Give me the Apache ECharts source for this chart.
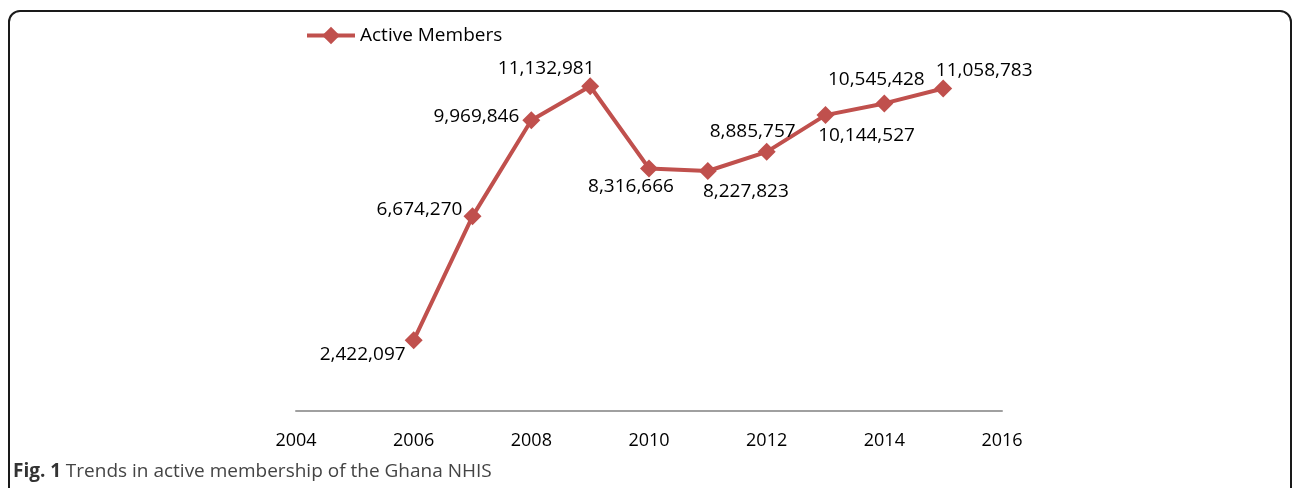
<!DOCTYPE html>
<html><head><meta charset="utf-8">
<script src="https://cdn.jsdelivr.net/npm/echarts@6/dist/echarts.min.js"></script>
<style>
html,body{margin:0;padding:0;background:#fff;overflow:hidden;}
#frame{position:absolute;left:8px;top:10px;width:1284px;height:520px;border:2px solid #1a1a1a;border-radius:12px;box-sizing:border-box;}
#chart{position:absolute;left:0;top:0;width:1292px;height:488px;}
</style></head>
<body>
<div id="frame"></div>
<div id="chart"></div>
<script>
const years = [2006, 2007, 2008, 2009, 2010, 2011, 2012, 2013, 2014, 2015];
const activeMembers = [2422097, 6674270, 9969846, 11132981, 8316666, 8227823, 8885757, 10144527, 10545428, 11058783];
const xTicks = [2004, 2006, 2008, 2010, 2012, 2014, 2016];
const labelOffsets = [[-51,14],[-53,-7],[-55,-4],[-44,-18],[-18,18],[38,21],[-14,-20],[41,20],[-8,-24],[41,-18]];

const sym = 18;
const data = years.map((y, i) => ({
  value: [y, activeMembers[i]],
  label: { position: [sym/2 + labelOffsets[i][0], sym/2 + labelOffsets[i][1]] }
}));

const chart = echarts.init(document.getElementById('chart'), null, {renderer: 'canvas'});
chart.setOption({
  animation: false,
  textStyle: { fontFamily: 'Open Sans' },
  title: {
    left: 13, top: 462, padding: 0,
    text: '{b|Fig. 1} {n|Trends in active membership of the Ghana NHIS}',
    textStyle: {
      rich: {
        b: { fontFamily: 'Open Sans', fontWeight: 'bold', fontSize: 19, color: '#333' },
        n: { fontFamily: 'Open Sans', fontWeight: 'normal', fontSize: 19, color: '#444' }
      }
    }
  },
  legend: {
    left: 305, top: 26, padding: 0,
    itemWidth: 48, itemHeight: 22, itemGap: 4,
    lineStyle: { width: 4 },
    textStyle: { fontFamily: 'Open Sans', fontSize: 19, color: '#000' },
    data: ['Active Members']
  },
  grid: { left: 296, right: 290, top: 61, bottom: 77 },
  xAxis: {
    type: 'value', min: 2004, max: 2016, interval: 2,
    axisLine: { lineStyle: { color: '#a0a0a0', width: 2 } },
    axisTick: { show: false },
    splitLine: { show: false },
    axisLabel: { fontFamily: 'Open Sans', fontSize: 18, color: '#000', margin: 21, formatter: v => String(v) }
  },
  yAxis: {
    type: 'value', min: 0, max: 12000000,
    show: false, splitLine: { show: false }
  },
  series: [{
    name: 'Active Members', type: 'line',
    data: data,
    symbol: 'diamond', symbolSize: sym,
    lineStyle: { color: '#C0504D', width: 4 },
    itemStyle: { color: '#C0504D' },
    label: {
      show: true, align: 'center', verticalAlign: 'middle',
      fontFamily: 'Open Sans', fontSize: 19, color: '#000',
      formatter: p => p.value[1].toLocaleString('en-US')
    }
  }]
});
</script>
</body></html>
